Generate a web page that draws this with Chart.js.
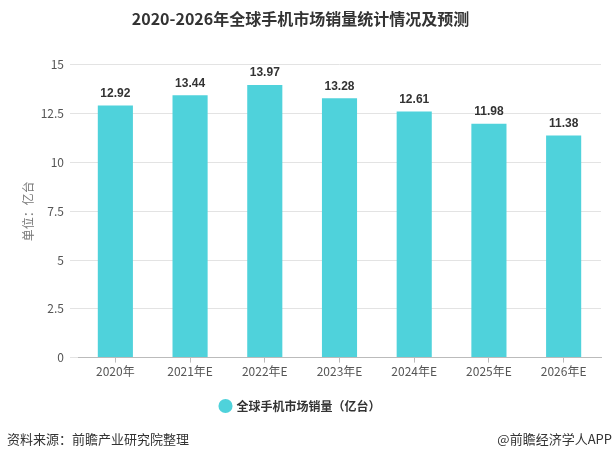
<!DOCTYPE html>
<html>
<head>
<meta charset="utf-8">
<script src="https://cdn.jsdelivr.net/npm/chart.js@4"></script>
<style>
  body { margin: 0; background: #fff; }
  #wrap { position: relative; width: 616px; height: 460px; }
  .foot { position: absolute; top: 429px; font: 13px "Noto Sans CJK SC", sans-serif; color: #333; }
</style>
</head>
<body>
<div id="wrap">
  <canvas id="salesChart" width="616" height="460"></canvas>
  <div class="foot" style="left:7px">资料来源：前瞻产业研究院整理</div>
  <div class="foot" style="right:4px">@前瞻经济学人APP</div>
</div>
<script>
const years = ['2020年', '2021年E', '2022年E', '2023年E', '2024年E', '2025年E', '2026年E'];
const sales = [12.92, 13.44, 13.97, 13.28, 12.61, 11.98, 11.38];
const seriesName = '全球手机市场销量（亿台）';
const barColor = '#4fd2db';
const cjk = '"Noto Sans CJK SC", sans-serif';

// Value labels above each bar
const valueLabels = {
  id: 'valueLabels',
  afterDatasetsDraw(chart) {
    const ctx = chart.ctx;
    ctx.save();
    ctx.font = 'bold 12px "Liberation Sans", sans-serif';
    ctx.fillStyle = '#333';
    ctx.textAlign = 'center';
    ctx.textBaseline = 'bottom';
    chart.getDatasetMeta(0).data.forEach((bar, i) => {
      ctx.fillText(sales[i].toFixed(2), bar.x, bar.y - 6);
    });
    ctx.restore();
  }
};

new Chart(document.getElementById('salesChart').getContext('2d'), {
  type: 'bar',
  data: {
    labels: years,
    datasets: [{
      label: seriesName,
      data: sales,
      backgroundColor: barColor,
      barPercentage: 0.94,
      categoryPercentage: 0.5,
    }],
  },
  options: {
    responsive: false,
    animation: false,
    layout: { padding: { left: 0, right: 15, top: 0, bottom: 38 } },
    plugins: {
      title: {
        display: true,
        text: '2020-2026年全球手机市场销量统计情况及预测',
        color: '#333',
        font: { family: cjk, size: 16, weight: 'bold' },
        padding: { top: 9, bottom: 36.6 },
      },
      legend: {
        position: 'bottom',
        labels: {
          usePointStyle: true,
          pointStyle: 'circle',
          boxWidth: 10,
          boxHeight: 10,
          color: '#333',
          font: { family: cjk, size: 12, weight: 'bold' },
          padding: 12,
        },
      },
      tooltip: { enabled: false },
    },
    scales: {
      x: {
        grid: { offset: false, drawOnChartArea: false, drawTicks: true, tickLength: 5, color: '#bbb' },
        border: { color: '#bbb' },
        ticks: { color: '#555', font: { family: cjk, size: 12 }, padding: 2 },
        afterFit(scale) { scale.height += 7; },
      },
      y: {
        min: 0,
        max: 15,
        ticks: { stepSize: 2.5, color: '#555', font: { family: cjk, size: 12 }, padding: 6 },
        grid: { color: '#e3e3e3', tickLength: 8 },
        border: { display: false },
        title: {
          display: true,
          text: '单位：亿台',
          color: '#777',
          font: { family: cjk, size: 12 },
          padding: { top: 21, bottom: 0 },
        },
        afterFit(scale) { scale.width = 78; },
      },
    },
  },
  plugins: [valueLabels],
});
</script>
</body>
</html>
